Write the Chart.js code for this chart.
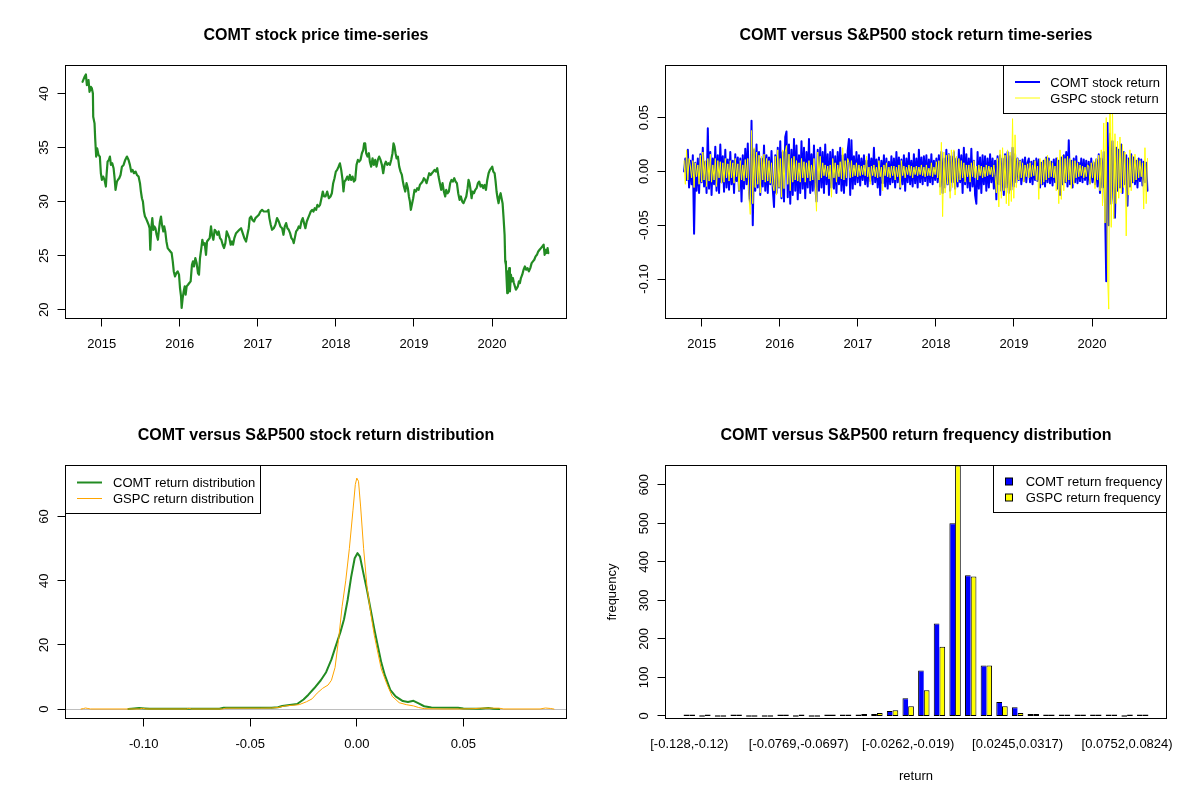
<!DOCTYPE html>
<html><head><meta charset="utf-8">
<script src="https://cdn.jsdelivr.net/npm/chart.js@4.4.1/dist/chart.umd.min.js"></script>
<style>
html,body{margin:0;padding:0;background:#fff;}
#wrap{position:relative;width:1200px;height:800px;background:#fff;}
.panel{position:absolute;width:600px;height:400px;}
canvas{display:block;}
</style></head><body>
<div id="wrap">
<div class="panel" style="left:0;top:0"><canvas id="c1" width="600" height="400"></canvas></div>
<div class="panel" style="left:600px;top:0"><canvas id="c2" width="600" height="400"></canvas></div>
<div class="panel" style="left:0;top:400px"><canvas id="c3" width="600" height="400"></canvas></div>
<div class="panel" style="left:600px;top:400px"><canvas id="c4" width="600" height="400"></canvas></div>
</div>
<script>
// ---------------- DATA ----------------
const titles = ["COMT stock price time-series","COMT versus S&P500 stock return time-series","COMT versus S&P500 stock return distribution","COMT versus S&P500 return frequency distribution"];
const yearTicks = [2015,2016,2017,2018,2019,2020];
const yearLabels = ["2015","2016","2017","2018","2019","2020"];
const priceTicks = [20,25,30,35,40];
const priceTickLabels = ["20","25","30","35","40"];
const returnTicks = [-0.10,-0.05,0,0.05];
const returnTickLabels = ["-0.10","-0.05","0.00","0.05"];
const densityTicks = [0,20,40,60];
const densityTickLabels = ["0","20","40","60"];
const freqTicks = [0,100,200,300,400,500,600];
const freqTickLabels = ["0","100","200","300","400","500","600"];

// COMT price: dates as decimal years, prices in USD
const priceDates = [
2014.754,2014.780,2014.797,2014.810,2014.831,2014.844,2014.861,2014.874,2014.887,2014.891,
2014.908,2014.916,2014.929,2014.942,2014.959,2014.976,2014.989,2015.002,2015.019,2015.036,
2015.053,2015.062,2015.075,2015.092,2015.105,2015.118,2015.135,2015.152,2015.165,2015.177,
2015.195,2015.207,2015.224,2015.241,2015.259,2015.280,2015.301,2015.323,2015.344,2015.361,
2015.378,2015.395,2015.413,2015.434,2015.451,2015.472,2015.490,2015.502,2015.515,2015.528,
2015.541,2015.554,2015.566,2015.584,2015.601,2015.613,2015.622,2015.635,2015.648,2015.661,
2015.675,2015.688,2015.703,2015.720,2015.733,2015.746,2015.759,2015.772,2015.789,2015.801,
2015.814,2015.829,2015.845,2015.862,2015.879,2015.896,2015.910,2015.923,2015.939,2015.956,
2015.973,2015.990,2016.003,2016.016,2016.024,2016.037,2016.050,2016.063,2016.075,2016.088,
2016.105,2016.122,2016.139,2016.156,2016.169,2016.182,2016.199,2016.216,2016.233,2016.246,
2016.259,2016.276,2016.289,2016.302,2016.319,2016.336,2016.349,2016.366,2016.383,2016.400,
2016.413,2016.430,2016.447,2016.464,2016.481,2016.498,2016.515,2016.532,2016.550,2016.567,
2016.584,2016.601,2016.618,2016.635,2016.652,2016.669,2016.682,2016.699,2016.721,2016.742,
2016.763,2016.785,2016.806,2016.827,2016.849,2016.866,2016.883,2016.896,2016.913,2016.930,
2016.951,2016.969,2016.990,2017.012,2017.033,2017.054,2017.076,2017.097,2017.118,2017.135,
2017.148,2017.165,2017.182,2017.204,2017.225,2017.246,2017.268,2017.289,2017.311,2017.328,
2017.345,2017.362,2017.379,2017.396,2017.413,2017.430,2017.447,2017.460,2017.473,2017.490,
2017.507,2017.524,2017.541,2017.558,2017.575,2017.592,2017.609,2017.627,2017.644,2017.661,
2017.678,2017.695,2017.712,2017.729,2017.746,2017.763,2017.780,2017.797,2017.815,2017.832,
2017.849,
2017.867,2017.888,2017.910,2017.931,2017.948,2017.965,2017.982,2017.999,2018.016,2018.034,
2018.051,2018.068,2018.085,2018.097,2018.110,2018.127,2018.145,2018.162,2018.179,2018.196,
2018.213,2018.230,2018.247,2018.264,2018.281,2018.298,2018.315,2018.333,2018.350,2018.362,
2018.375,2018.388,2018.405,2018.422,2018.435,2018.452,2018.469,2018.486,2018.503,2018.520,
2018.537,2018.554,2018.572,2018.589,2018.606,2018.623,2018.640,2018.657,2018.674,2018.691,
2018.708,2018.725,2018.738,2018.751,2018.764,2018.777,2018.794,2018.811,2018.828,2018.845,
2018.858,2018.871,2018.888,2018.905,2018.922,2018.935,2018.948,2018.960,2018.973,2018.990,
2019.007,2019.025,2019.042,2019.059,2019.076,2019.093,2019.110,2019.127,2019.144,2019.161,
2019.178,2019.195,2019.213,2019.230,2019.247,2019.264,2019.281,2019.298,2019.315,2019.332,
2019.349,2019.366,2019.383,2019.400,2019.413,2019.430,2019.447,2019.464,2019.481,2019.498,
2019.516,2019.533,2019.550,2019.567,2019.584,2019.601,2019.618,2019.635,2019.652,2019.670,
2019.687,2019.699,2019.712,2019.725,2019.738,2019.751,2019.768,2019.785,2019.802,2019.819,
2019.836,2019.853,2019.870,2019.887,2019.904,2019.922,2019.939,2019.956,2019.973,2019.990,
2020.003,2020.016,2020.033,2020.046,2020.058,2020.071,2020.084,2020.097,2020.110,2020.122,
2020.135,2020.148,2020.161,2020.169,2020.178,2020.186,2020.195,2020.203,2020.212,2020.220,
2020.229,2020.242,2020.254,2020.267,2020.280,2020.293,2020.306,2020.318,2020.331,2020.344,
2020.357,2020.370,2020.387,2020.404,2020.421,2020.438,2020.455,2020.472,2020.490,2020.507,
2020.524,2020.541,2020.558,2020.575,2020.592,2020.609,2020.627,2020.644,2020.661,2020.674,
2020.687,2020.699,2020.712,2020.721];
const comtPrice = [
41.07,41.53,41.75,40.77,41.23,40.15,40.61,40.46,40.0,37.85,
37.23,35.85,34.16,34.92,34.31,34.16,32.62,32.0,32.31,32.0,
31.39,32.46,33.69,33.85,34.16,33.39,33.54,33.08,32.16,31.08,
31.85,32.0,32.16,32.46,33.23,33.39,33.85,34.16,33.85,33.39,
32.77,32.93,32.62,32.77,32.46,32.31,31.70,30.93,30.31,30.0,
29.08,28.62,28.47,28.16,27.85,27.54,25.54,27.54,28.47,27.39,
27.70,27.54,26.93,26.47,27.39,28.16,28.62,27.85,27.24,27.70,
27.24,26.31,25.70,25.54,25.39,25.24,24.47,23.54,23.08,23.39,
23.54,23.24,22.0,21.23,20.16,21.08,21.69,22.16,21.39,22.16,
22.31,22.47,22.62,24.16,24.47,24.0,24.77,24.31,23.39,23.24,
24.77,25.70,26.47,26.01,26.16,25.08,26.31,26.47,26.62,27.70,
26.93,26.47,27.39,27.24,26.93,27.24,26.62,26.47,26.01,25.70,
26.16,27.24,26.93,26.62,26.01,26.31,26.01,26.62,27.08,27.24,
27.39,27.54,27.08,26.62,26.31,26.93,27.54,28.47,28.62,28.31,
28.16,28.47,28.62,28.77,29.08,29.23,29.08,29.08,29.08,29.23,
28.47,27.85,27.39,27.54,27.85,28.47,28.16,27.70,27.54,26.93,
27.70,28.01,27.54,27.39,27.08,26.62,26.47,26.16,26.62,27.24,
27.39,27.70,27.54,28.16,28.47,28.01,27.54,28.16,28.47,28.77,
29.08,29.23,29.08,29.39,29.23,29.70,29.54,29.70,30.31,30.93,
30.47,
30.47,30.93,30.31,30.47,30.77,31.70,32.16,32.77,32.93,33.23,
33.54,32.93,32.0,30.93,31.85,32.0,32.31,32.0,32.46,32.0,
32.31,31.85,32.0,33.39,33.85,33.69,33.85,34.47,34.77,35.39,
35.39,34.47,34.16,34.47,33.69,33.23,34.0,33.39,33.85,33.23,
33.85,34.16,33.85,33.39,32.62,33.39,33.69,33.39,33.54,33.39,
33.85,34.47,35.39,35.08,34.47,34.0,34.16,33.23,32.77,32.46,
31.85,31.39,30.93,31.70,31.24,30.47,30.0,29.24,29.70,30.31,
31.08,30.93,31.24,31.08,31.54,31.70,31.85,32.16,32.0,31.70,
32.16,32.62,32.46,32.62,32.77,32.93,32.77,33.08,32.31,31.70,
31.08,31.70,30.93,30.47,31.08,30.77,30.93,31.70,32.0,31.85,
32.16,31.85,31.70,30.77,30.16,30.47,30.0,29.85,30.16,30.47,
31.24,32.0,31.70,31.08,30.31,30.93,30.77,31.08,31.24,31.70,
31.85,31.39,31.54,31.24,31.54,31.08,32.0,32.62,32.93,33.08,
33.23,32.77,32.62,31.85,30.93,30.31,29.85,30.47,30.77,30.31,
29.85,28.47,26.93,24.47,24.16,22.93,21.54,23.54,22.31,23.85,
21.69,23.24,22.62,22.93,22.47,22.16,21.85,22.0,22.16,22.62,
22.47,22.93,23.24,23.70,24.0,23.70,23.85,23.54,23.85,24.31,
24.47,24.62,24.93,25.08,25.39,25.54,25.70,25.85,26.01,25.08,
25.54,25.24,25.70,25.24];

// daily-return samples (one every ~4 trading days from Oct 2014)
const returnStart = 2014.774;
const returnStep = 0.016;
const comtReturn = [
0.000,0.012,-0.008,0.020,-0.015,0.010,-0.012,0.015,-0.058,0.008,-0.018,0.012,
-0.020,0.016,-0.010,0.022,-0.014,0.009,-0.020,0.040,-0.016,0.018,-0.022,0.012,
-0.012,0.023,-0.018,0.015,-0.020,0.025,-0.010,0.014,-0.019,0.020,-0.015,0.011,
-0.017,0.018,-0.012,0.010,-0.020,0.016,-0.009,0.013,-0.018,0.012,-0.028,0.015,
-0.016,0.021,-0.012,0.026,-0.020,-0.030,0.047,-0.050,0.020,-0.018,0.025,-0.015,
0.018,-0.022,0.012,-0.014,0.024,-0.018,0.015,-0.020,0.013,-0.012,0.019,-0.016,
-0.033,0.015,-0.020,0.022,-0.015,0.028,-0.025,0.018,-0.028,0.032,0.037,-0.024,
0.025,-0.030,0.020,-0.022,0.030,-0.018,0.024,-0.026,0.015,-0.020,0.028,-0.016,
0.022,-0.025,0.018,-0.015,0.030,-0.020,0.016,-0.018,0.024,-0.014,-0.028,0.020,
-0.018,0.022,-0.015,0.018,-0.020,0.025,-0.012,0.016,-0.022,0.018,-0.015,0.020,
-0.016,0.014,-0.020,0.018,-0.012,0.022,-0.018,0.015,-0.020,0.016,-0.013,0.019,
0.030,-0.022,0.029,-0.016,0.014,-0.012,0.018,-0.010,0.015,-0.013,0.012,-0.008,
0.015,-0.012,0.010,-0.014,0.016,-0.009,0.012,-0.012,0.022,-0.010,0.011,-0.015,
0.013,-0.022,0.010,-0.011,0.015,-0.014,0.012,-0.016,0.009,-0.012,0.014,-0.010,
0.012,-0.015,0.018,-0.010,0.013,-0.016,0.011,-0.012,0.015,-0.018,0.012,-0.010,
0.017,-0.012,0.010,-0.014,0.016,-0.011,0.012,-0.015,0.020,-0.010,0.013,-0.012,
0.014,-0.009,0.015,-0.013,0.011,-0.010,0.016,-0.012,0.010,-0.008,0.012,-0.010,
0.015,-0.014,0.018,-0.020,0.012,-0.015,0.020,-0.012,0.016,-0.018,0.014,-0.010,
0.018,-0.016,0.012,-0.014,0.020,-0.010,0.015,-0.020,0.022,-0.012,0.016,-0.015,
0.012,-0.018,0.021,-0.014,0.010,-0.022,-0.030,0.018,-0.016,0.013,-0.020,0.015,
-0.012,0.014,-0.018,0.012,-0.015,0.016,-0.010,0.012,-0.016,0.010,-0.026,0.014,
-0.012,0.015,-0.018,0.012,-0.022,0.016,-0.015,0.018,-0.020,0.014,-0.017,0.022,
-0.014,0.016,-0.010,0.012,-0.008,0.010,-0.012,0.011,-0.009,0.013,-0.010,0.008,
0.012,-0.010,0.009,-0.012,0.010,-0.008,0.012,-0.009,0.011,-0.015,0.008,-0.012,
0.010,-0.014,0.013,-0.010,0.012,-0.011,0.009,-0.013,0.011,-0.010,0.012,-0.016,
0.010,-0.022,0.013,-0.012,0.015,-0.010,0.018,-0.014,0.029,-0.012,0.010,-0.015,
0.012,-0.010,0.014,-0.011,0.008,-0.009,0.012,-0.010,0.011,-0.008,0.010,-0.012,
0.009,-0.011,0.012,-0.010,0.008,-0.012,0.011,-0.014,0.016,-0.020,0.012,-0.015,
0.018,-0.030,-0.102,0.045,-0.050,0.035,-0.030,0.028,-0.025,-0.043,0.022,-0.018,
0.020,-0.015,0.025,-0.020,0.018,-0.012,0.015,-0.032,0.012,-0.014,0.016,-0.010,
0.013,-0.012,0.010,-0.015,0.012,-0.009,0.011,-0.013,0.009,-0.010,0.008,-0.018];
const gspcReturn = [
0.010,-0.012,0.020,-0.008,0.012,0.005,-0.006,0.010,-0.015,0.008,-0.005,0.006,
-0.012,0.015,-0.010,0.018,-0.008,0.010,-0.014,0.012,-0.009,0.016,-0.010,0.006,
-0.008,0.012,-0.014,0.010,-0.006,0.009,-0.011,0.008,-0.010,0.012,-0.006,0.007,
-0.009,0.010,-0.006,0.008,-0.011,0.012,-0.005,0.007,-0.018,0.010,-0.008,0.006,
-0.009,0.011,-0.006,0.012,-0.025,-0.040,0.038,-0.030,0.022,-0.015,0.018,-0.012,
0.015,-0.020,0.014,-0.008,0.016,-0.010,0.012,-0.009,0.010,-0.011,0.008,-0.012,
-0.018,0.014,-0.022,0.020,-0.015,0.012,-0.024,0.020,-0.016,0.018,0.024,-0.012,
0.016,-0.018,0.012,-0.010,0.014,-0.008,0.010,-0.009,0.008,-0.010,0.012,-0.006,
0.009,-0.010,0.008,-0.006,0.010,-0.009,0.006,-0.008,0.012,-0.010,-0.037,0.018,
-0.008,0.014,-0.006,0.008,-0.004,0.006,-0.005,0.005,-0.007,0.006,-0.024,0.012,
-0.006,0.008,-0.010,0.006,-0.005,0.009,-0.007,0.022,-0.008,0.010,-0.006,0.012,
0.008,-0.006,0.010,-0.005,0.006,-0.004,0.008,-0.005,0.006,-0.004,0.005,-0.003,
0.006,-0.004,0.014,-0.005,0.004,-0.012,0.005,-0.004,0.006,-0.005,0.004,-0.006,
0.010,-0.005,0.004,-0.018,0.006,-0.004,0.008,-0.005,0.004,-0.006,0.005,-0.004,
0.005,-0.008,0.004,-0.005,0.006,-0.015,0.010,-0.004,0.005,-0.006,0.004,-0.003,
0.006,-0.004,0.005,-0.006,0.004,-0.003,0.005,-0.004,0.004,-0.003,0.006,-0.004,
0.004,-0.005,0.006,-0.004,0.003,-0.004,0.008,-0.005,0.004,-0.003,0.009,-0.006,
0.010,-0.022,0.027,-0.042,0.018,-0.020,0.015,-0.012,0.016,-0.025,0.020,-0.015,
0.020,-0.022,0.014,-0.010,0.012,-0.008,0.010,-0.006,0.008,-0.010,0.006,-0.005,
0.006,-0.010,0.008,-0.005,0.010,-0.006,0.005,-0.008,0.006,-0.004,0.005,-0.006,
0.004,-0.005,0.006,-0.004,0.005,-0.003,0.004,-0.005,0.006,-0.004,-0.020,0.012,
-0.033,0.020,-0.025,0.022,-0.018,0.015,-0.030,0.020,-0.032,0.018,-0.028,0.049,
-0.025,0.034,-0.015,0.012,-0.008,0.010,-0.006,0.008,-0.010,0.006,-0.005,0.007,
-0.006,0.008,-0.005,0.006,-0.004,0.010,-0.008,0.005,-0.026,0.012,-0.012,0.010,
-0.010,0.012,-0.008,0.015,-0.006,0.010,-0.005,0.008,-0.006,0.005,-0.018,0.013,
-0.030,0.020,-0.026,0.015,-0.018,0.012,-0.010,0.014,-0.008,0.012,-0.016,0.010,
-0.012,0.010,-0.006,0.008,-0.005,0.006,-0.004,0.005,-0.006,0.004,-0.005,0.006,
0.005,-0.012,0.008,-0.006,0.010,-0.016,0.012,-0.008,0.015,-0.018,0.020,-0.032,
0.045,-0.048,0.050,-0.095,-0.128,0.0897,-0.052,0.062,-0.044,0.035,-0.030,0.028,
-0.025,0.032,-0.020,0.025,-0.015,0.018,-0.060,0.012,-0.022,0.020,-0.018,0.015,
-0.010,0.016,-0.008,0.012,-0.006,0.010,-0.005,0.008,-0.035,0.022,-0.030,0.012];

// kernel density estimates
const comtDensX = [-0.1072,-0.1045,-0.1022,-0.0995,-0.0972,-0.082,-0.0645,-0.0625,-0.0487,-0.040,-0.037,-0.035,-0.028,-0.025,-0.0227,-0.020,-0.0169,-0.0144,-0.0119,-0.0102,-0.0077,-0.006,-0.0043,-0.0027,-0.001,0.0003,0.0015,0.0032,0.0048,0.0065,0.0082,0.0099,0.0115,0.0132,0.0157,0.0182,0.0216,0.024,0.0266,0.029,0.0316,0.035,0.0475,0.050,0.058,0.0617,0.064,0.0668];
const comtDensY = [0.05,0.2,0.35,0.2,0.1,0.1,0.15,0.4,0.45,0.45,0.6,1.0,1.6,3.0,4.5,6.5,9.0,11.5,15.5,19,24,28,34,41,47,48.6,47.5,42,37,31,25,19.5,14.5,10.5,6,4,2.5,2.2,2.6,1.8,0.9,0.5,0.4,0.2,0.15,0.35,0.15,0.02];
const gspcDensX = [-0.1295,-0.1282,-0.1273,-0.1262,-0.125,-0.102,-0.1005,-0.099,-0.080,-0.0788,-0.0775,-0.063,-0.0615,-0.045,-0.040,-0.037,-0.0336,-0.027,-0.0236,-0.021,-0.0186,-0.016,-0.0135,-0.0119,-0.0102,-0.0085,-0.0069,-0.0052,-0.0035,-0.0018,-0.0007,0.0,0.0008,0.0018,0.0032,0.0048,0.0065,0.0082,0.0099,0.0115,0.014,0.0166,0.0199,0.0232,0.0266,0.029,0.0316,0.040,0.0483,0.055,0.058,0.0667,0.069,0.086,0.0885,0.091,0.0925];
const gspcDensY = [0.02,0.2,0.35,0.2,0.05,0.05,0.25,0.05,0.05,0.25,0.05,0.05,0.3,0.3,0.35,0.5,1.0,1.4,2.3,3.2,5,6.5,7.5,9,13,22,32,40,50,62,70,72,71,63,50,38,30,23,17.5,12.5,8,4,2.0,1.4,1.0,0.5,0.15,0.05,0.05,0.15,0.3,0.3,0.05,0.05,0.35,0.2,0.02];

// histogram (30 bins of width ~0.00724 from -0.128)
const comtFreq = [1,0,0,2,0,0,1,0,0,2,2,2,5,13,46,118,240,500,365,131,36,23,5,2,1,1,2,1,0,1];
const gspcFreq = [2,1,0,2,0,0,2,1,0,2,2,5,8,15,25,67,180,650,362,131,25,8,5,2,2,2,1,2,1,2];
const binTickIndex = [0,7,14,21,28];
const binTickLabels = ["[-0.128,-0.12)","[-0.0769,-0.0697)","[-0.0262,-0.019)","[0.0245,0.0317)","[0.0752,0.0824)"];

const retNames = ["COMT stock return","GSPC stock return"];
const densNames = ["COMT return distribution","GSPC return distribution"];
const freqNames = ["COMT return frequency","GSPC return frequency"];

// ---------------- RENDERING ----------------
const FONT = '"Liberation Sans", Arial, Helvetica, sans-serif';
const COL = {green:'#228B22', blue:'#0000FF', yellow:'#FFFF00', orange:'#FFA500', gray:'#BEBEBE'};
function crisp(v){ return Math.round(v - 0.5) + 0.5; }

function baseOptions(xmin, xmax, ymin, ymax){
  return {
    responsive:false, animation:false, devicePixelRatio:1, events:[],
    layout:{padding:{left:65.5, top:65.5, right:33.5, bottom:81.5}},
    plugins:{legend:{display:false}, tooltip:{enabled:false}, title:{display:false}},
    scales:{
      x:{type:'linear', display:false, min:xmin, max:xmax, offset:false},
      y:{type:'linear', display:false, min:ymin, max:ymax}
    }
  };
}

function makeDecor(cfg){
  return {
    id:'rdecor',
    beforeDatasetsDraw(chart){
      if(!cfg.zeroLine) return;
      const ctx = chart.ctx, a = chart.chartArea;
      const py = crisp(chart.scales.y.getPixelForValue(0));
      ctx.save(); ctx.strokeStyle = COL.gray; ctx.lineWidth = 1;
      ctx.beginPath(); ctx.moveTo(a.left, py); ctx.lineTo(a.right, py); ctx.stroke();
      ctx.restore();
    },
    afterDraw(chart){
      const ctx = chart.ctx, a = chart.chartArea;
      const xs = chart.scales.x, ys = chart.scales.y;
      ctx.save();
      ctx.strokeStyle = '#000'; ctx.lineWidth = 1; ctx.lineCap = 'butt';
      ctx.strokeRect(a.left, a.top, a.right - a.left, a.bottom - a.top);
      ctx.fillStyle = '#000';
      ctx.font = 'bold 16px ' + FONT; ctx.textAlign = 'center'; ctx.textBaseline = 'alphabetic';
      ctx.fillText(cfg.title, (a.left + a.right) / 2, a.top - 25.5);
      ctx.font = '13px ' + FONT;
      cfg.xTicks.forEach((v, i) => {
        const px = xs.getPixelForValue(v);
        if(cfg.xTickMarks){
          const cx = crisp(px);
          ctx.beginPath(); ctx.moveTo(cx, a.bottom); ctx.lineTo(cx, a.bottom + 8); ctx.stroke();
        }
        ctx.fillText(cfg.xLabels[i], px, a.bottom + 29.5);
      });
      cfg.yTicks.forEach((v, i) => {
        const py = ys.getPixelForValue(v), cy = crisp(py);
        ctx.beginPath(); ctx.moveTo(a.left - 8, cy); ctx.lineTo(a.left, cy); ctx.stroke();
        ctx.save(); ctx.translate(a.left - 18, py); ctx.rotate(-Math.PI / 2);
        ctx.fillText(cfg.yLabels[i], 0, 0); ctx.restore();
      });
      if(cfg.xTitle){ ctx.fillText(cfg.xTitle, (a.left + a.right) / 2, a.bottom + 61.5); }
      if(cfg.yTitle){
        ctx.save(); ctx.translate(a.left - 50, (a.top + a.bottom) / 2); ctx.rotate(-Math.PI / 2);
        ctx.fillText(cfg.yTitle, 0, 0); ctx.restore();
      }
      const L = cfg.legend;
      if(L){
        ctx.fillStyle = '#fff'; ctx.fillRect(L.x0, L.y0, L.x1 - L.x0, L.y1 - L.y0);
        ctx.strokeStyle = '#000'; ctx.lineWidth = 1; ctx.strokeRect(L.x0, L.y0, L.x1 - L.x0, L.y1 - L.y0);
        ctx.textAlign = 'left';
        L.items.forEach((it, i) => {
          const ry = L.rows[i];
          if(it.kind === 'line'){
            ctx.strokeStyle = it.color; ctx.lineWidth = it.width;
            ctx.beginPath(); ctx.moveTo(L.sx0, ry); ctx.lineTo(L.sx1, ry); ctx.stroke();
          } else {
            ctx.fillStyle = it.color; ctx.fillRect(L.sx0, ry - 3.5, 7, 7);
            ctx.strokeStyle = '#000'; ctx.lineWidth = 1; ctx.strokeRect(L.sx0, ry - 3.5, 7, 7);
          }
          ctx.fillStyle = '#000'; ctx.fillText(it.label, L.tx, ry + 4.7);
        });
      }
      ctx.restore();
    }
  };
}

const timeMin = 2014.536, timeMax = 2020.954;
const lineDefaults = {pointRadius:0, tension:0, clip:0, borderJoinStyle:'round', borderCapStyle:'round', fill:false};

// Panel 1: price
new Chart(document.getElementById('c1'), {
  type:'line',
  data:{datasets:[Object.assign({data:priceDates.map((d, i) => ({x:d, y:comtPrice[i]})), borderColor:COL.green, borderWidth:2.2}, lineDefaults)]},
  options:baseOptions(timeMin, timeMax, 19.19, 42.58),
  plugins:[makeDecor({title:titles[0], xTicks:yearTicks, xLabels:yearLabels, xTickMarks:true, yTicks:priceTicks, yLabels:priceTickLabels})]
});

// Panel 2: returns
const retDates = comtReturn.map((_, i) => returnStart + i * returnStep);
new Chart(document.getElementById('c2'), {
  type:'line',
  data:{datasets:[
    Object.assign({label:retNames[0], order:1, data:retDates.map((d, i) => ({x:d, y:comtReturn[i]})), borderColor:COL.blue, borderWidth:2}, lineDefaults),
    Object.assign({label:retNames[1], order:0, data:retDates.map((d, i) => ({x:d, y:gspcReturn[i]})), borderColor:COL.yellow, borderWidth:1}, lineDefaults)
  ]},
  options:baseOptions(timeMin, timeMax, -0.1367, 0.0984),
  plugins:[makeDecor({title:titles[1], xTicks:yearTicks, xLabels:yearLabels, xTickMarks:true, yTicks:returnTicks, yLabels:returnTickLabels,
    legend:{x0:403.5, y0:65.5, x1:566.5, y1:113.5, sx0:415, sx1:440, tx:450.3, rows:[82, 98],
      items:[{kind:'line', color:COL.blue, width:2, label:retNames[0]}, {kind:'line', color:COL.yellow, width:1, label:retNames[1]}]}})]
});

// Panel 3: density
new Chart(document.getElementById('c3'), {
  type:'line',
  data:{datasets:[
    Object.assign({label:densNames[0], order:1, data:comtDensX.map((x, i) => ({x:x, y:comtDensY[i]})), borderColor:COL.green, borderWidth:2}, lineDefaults),
    Object.assign({label:densNames[1], order:0, data:gspcDensX.map((x, i) => ({x:x, y:gspcDensY[i]})), borderColor:COL.orange, borderWidth:1}, lineDefaults)
  ]},
  options:baseOptions(-0.1367, 0.0984, -2.92, 75.92),
  plugins:[makeDecor({title:titles[2], zeroLine:true, xTicks:returnTicks, xLabels:returnTickLabels, xTickMarks:true, yTicks:densityTicks, yLabels:densityTickLabels,
    legend:{x0:65.5, y0:65.5, x1:260.5, y1:113.5, sx0:77, sx1:102, tx:113, rows:[82.5, 98.5],
      items:[{kind:'line', color:COL.green, width:2, label:densNames[0]}, {kind:'line', color:COL.orange, width:1, label:densNames[1]}]}})]
});

// Panel 4: histogram
new Chart(document.getElementById('c4'), {
  type:'bar',
  data:{datasets:[
    {label:freqNames[0], data:comtFreq.map((v, i) => ({x:i, y:v})), backgroundColor:COL.blue, borderColor:'#000', borderWidth:1, borderSkipped:'right', minBarLength:1.5, categoryPercentage:0.73, barPercentage:1},
    {label:freqNames[1], data:gspcFreq.map((v, i) => ({x:i, y:v})), backgroundColor:COL.yellow, borderColor:'#000', borderWidth:1, borderSkipped:false, minBarLength:1.5, categoryPercentage:0.73, barPercentage:1}
  ]},
  options:baseOptions(-1.52, 30.52, -6.5, 650),
  plugins:[makeDecor({title:titles[3], xTicks:binTickIndex, xLabels:binTickLabels, xTickMarks:false, yTicks:freqTicks, yLabels:freqTickLabels,
    xTitle:'return', yTitle:'frequency',
    legend:{x0:393.5, y0:65.5, x1:566.5, y1:112.5, sx0:405.5, tx:425.7, rows:[81.5, 97.5],
      items:[{kind:'box', color:COL.blue, label:freqNames[0]}, {kind:'box', color:COL.yellow, label:freqNames[1]}]}})]
});
</script>
</body></html>
